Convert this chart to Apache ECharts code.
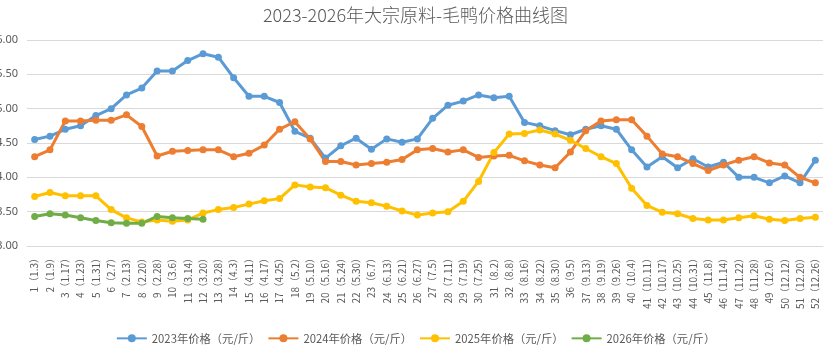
<!DOCTYPE html>
<html><head><meta charset="utf-8">
<script src="https://cdn.jsdelivr.net/npm/echarts@6/dist/echarts.min.js"></script>
<style>html,body{margin:0;padding:0;background:#fff}#c{width:831px;height:352px}</style>
</head><body><div id="c"></div>
<script>
const categories = ["1（1.3）","2（1.9）","3（1.17）","4（1.23）","5（1.31）","6（2.7）","7（2.13）","8（2.20）","9（2.28）","10（3.6）","11（3.14）","12（3.20）","13（3.28）","14（4.3）","15（4.11）","16（4.17）","17（4.25）","18（5.2）","19（5.10）","20（5.16）","21（5.24）","22（5.30）","23（6.7）","24（6.13）","25（6.21）","26（6.27）","27（7.5）","28（7.11）","29（7.19）","30（7.25）","31（8.2）","32（8.8）","33（8.16）","34（8.22）","35（8.30）","36（9.5）","37（9.13）","38（9.19）","39（9.26）","40（10.4）","41（10.11）","42（10.17）","43（10.25）","44（10.31）","45（11.8）","46（11.14）","47（11.22）","48（11.28）","49（12.6）","50（12.12）","51（12.20）","52（12.26）"];
const price2023 = [4.55,4.60,4.70,4.75,4.90,5.00,5.20,5.30,5.55,5.55,5.70,5.80,5.75,5.45,5.18,5.18,5.09,4.67,4.57,4.28,4.46,4.57,4.41,4.56,4.51,4.56,4.86,5.05,5.11,5.20,5.16,5.18,4.80,4.75,4.68,4.62,4.70,4.75,4.70,4.40,4.15,4.30,4.14,4.27,4.15,4.22,4.00,4.00,3.92,4.02,3.92,4.25];
const price2024 = [4.30,4.40,4.82,4.82,4.83,4.83,4.91,4.74,4.31,4.38,4.39,4.40,4.40,4.30,4.35,4.47,4.70,4.81,4.56,4.23,4.23,4.18,4.20,4.22,4.26,4.40,4.42,4.37,4.40,4.29,4.31,4.32,4.24,4.18,4.14,4.37,4.68,4.82,4.84,4.84,4.60,4.34,4.30,4.20,4.10,4.18,4.25,4.30,4.21,4.18,4.00,3.92];
const price2025 = [3.72,3.78,3.73,3.73,3.73,3.53,3.41,3.35,3.38,3.36,3.38,3.48,3.53,3.56,3.61,3.66,3.69,3.89,3.86,3.85,3.74,3.65,3.63,3.58,3.51,3.45,3.48,3.50,3.65,3.94,4.36,4.63,4.64,4.69,4.63,4.54,4.42,4.30,4.20,3.84,3.59,3.49,3.47,3.40,3.38,3.38,3.41,3.44,3.39,3.37,3.40,3.42];
const price2026 = [3.43,3.47,3.45,3.41,3.37,3.34,3.33,3.33,3.43,3.41,3.40,3.39];
const seriesNames = ["2023年价格（元/斤）","2024年价格（元/斤）","2025年价格（元/斤）","2026年价格（元/斤）"];
const colors = ["#5B9BD5","#ED7D31","#FFC000","#70AD47"];
const titleText = "2023-2026年大宗原料-毛鸭价格曲线图";

const font = "'Noto Sans CJK SC', 'Noto Sans', sans-serif";
const chart = echarts.init(document.getElementById('c'), null, {renderer:'canvas'});
const mk = (name, data, color) => ({
  name, type:'line', data, color,
  symbol:'circle', symbolSize:7, showSymbol:true,
  lineStyle:{width:3, color}, itemStyle:{color},
  emphasis:{disabled:true}, animation:false
});
chart.setOption({
  animation:false,
  backgroundColor:'#fff',
  title:{text:titleText, left:'center', top:1,
    textStyle:{fontFamily:font, fontSize:18, fontWeight:300, color:'#595959'}},
  legend:{bottom:3, left:'center', itemWidth:30, itemHeight:10, itemGap:7,
    textStyle:{fontFamily:font, fontSize:11.3, color:'#595959'},
    data:seriesNames},
  grid:{left:27, right:8, top:40, bottom:106, containLabel:false, outerBoundsMode:'none'},
  xAxis:{type:'category', data:categories, boundaryGap:true,
    axisLine:{show:true, lineStyle:{color:'#d9d9d9'}},
    axisTick:{show:false},
    axisLabel:{interval:0, rotate:90, fontSize:10, color:'#595959', fontFamily:font, margin:7}},
  yAxis:{type:'value', min:3, max:6, interval:0.5,
    axisLine:{show:false}, axisTick:{show:false},
    axisLabel:{formatter:v=>v.toFixed(2), fontSize:11, color:'#595959', fontFamily:"'Noto Sans', sans-serif", margin:9},
    splitLine:{lineStyle:{color:'#d9d9d9', width:1}}},
  series:[
    mk(seriesNames[0], price2023, colors[0]),
    mk(seriesNames[1], price2024, colors[1]),
    mk(seriesNames[2], price2025, colors[2]),
    mk(seriesNames[3], price2026, colors[3])
  ]
});
</script></body></html>
